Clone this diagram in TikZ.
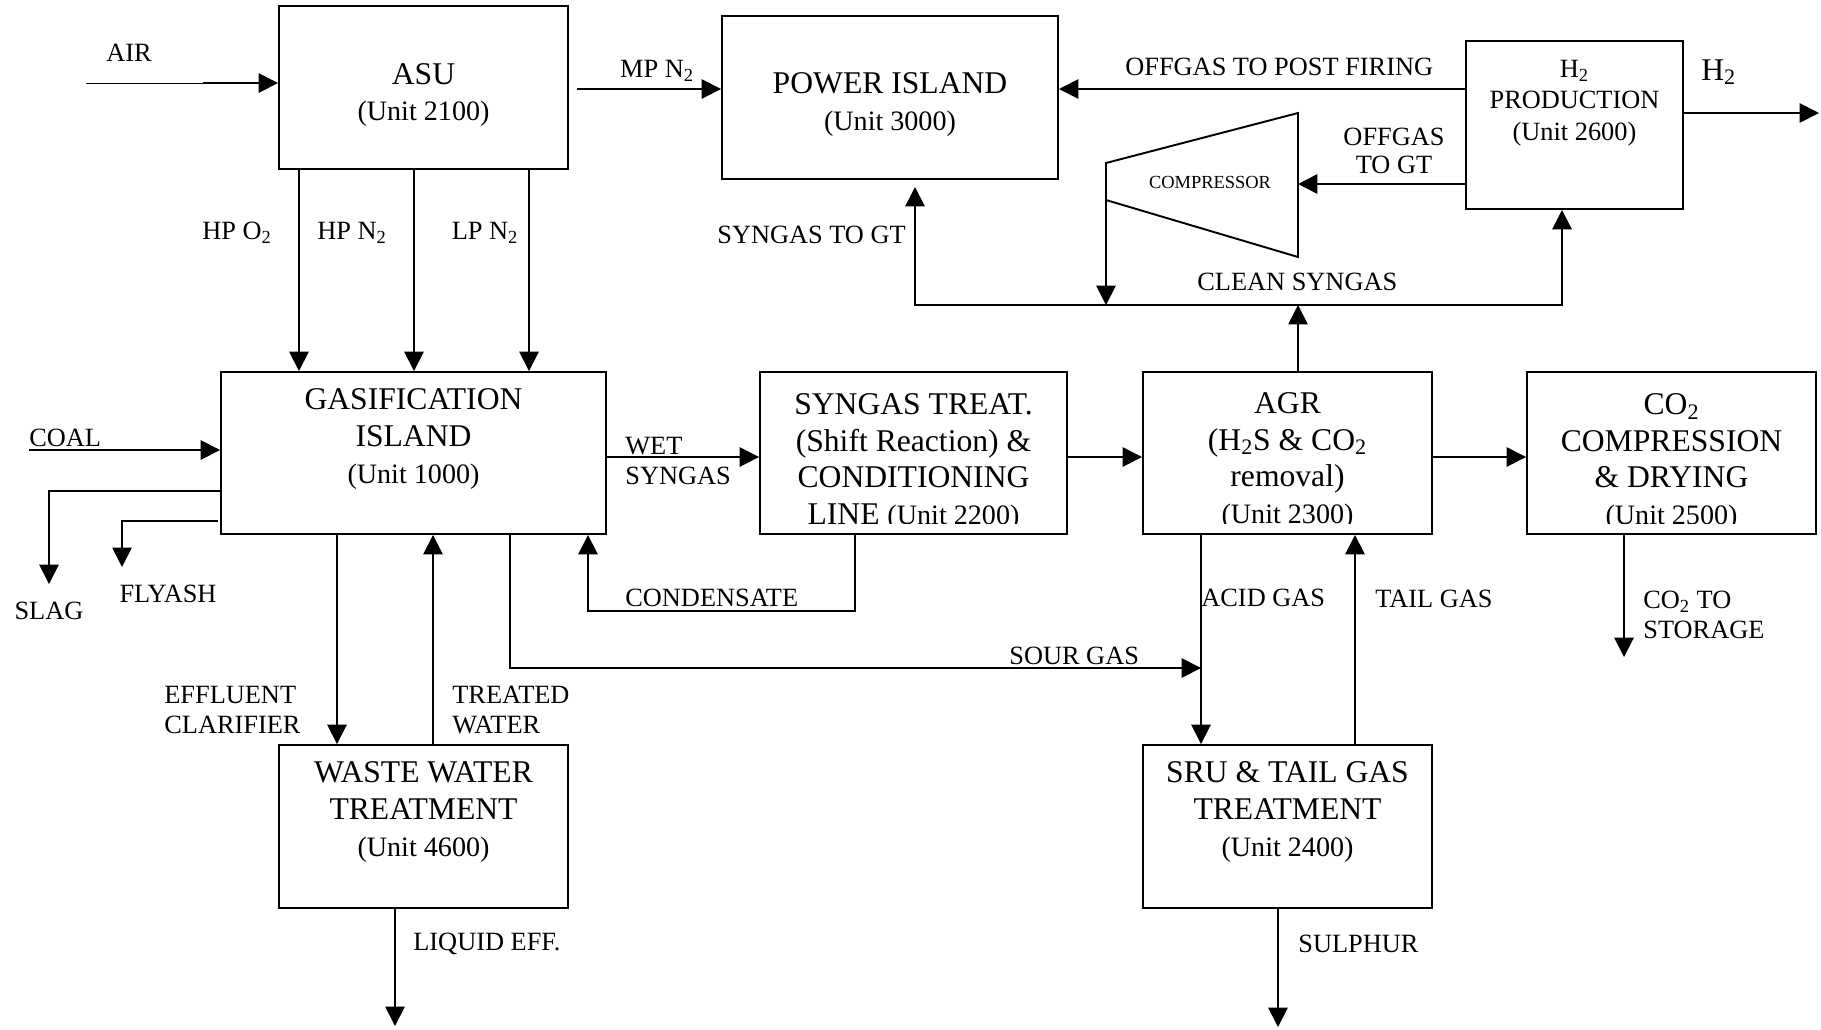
\documentclass[tikz,border=0pt]{standalone}
\usepackage{fontspec}
\setmainfont{Liberation Serif}
\usepackage{tikz}
\usetikzlibrary{arrows.meta}
\usetikzlibrary{fit}

\newcommand{\unitno}[1]{{\fontsize{16}{20.8}\selectfont (Unit #1)}}
\tikzset{
  unitbox/.style={draw,line width=1.1pt,inner sep=0pt},
  boxtxt/.style={font=\fontsize{18}{20.8}\selectfont,align=center,inner sep=0pt},
  lbl/.style={font=\fontsize{15}{17.5}\selectfont,align=left,inner sep=0pt},
  flow/.style={line width=1pt,-{Triangle[length=11pt,width=11pt]}}
}

\begin{document}
\begin{tikzpicture}[line join=miter,x=0.02cm,y=-0.02cm]
\useasboundingbox (0,0) rectangle (1821,1029);
% process units
\node[unitbox,fit={(279,6) (568,169)}] (asu) {};
\node[unitbox,fit={(722,16) (1058,179)}] (power) {};
\node[unitbox,fit={(1466,41) (1683,209)}] (htwo) {};
\node[unitbox,fit={(221,372) (606,534)}] (gasif) {};
\node[unitbox,fit={(760,372) (1067,534)}] (shift) {};
\node[unitbox,fit={(1143,372) (1432,534)}] (agr) {};
\node[unitbox,fit={(1527,372) (1816,534)}] (cotwo) {};
\node[unitbox,fit={(279,745) (568,908)}] (wwt) {};
\node[unitbox,fit={(1143,745) (1432,908)}] (sru) {};

\node[boxtxt] (asu-t) at (423.5,95) {ASU\\\unitno{2100}};
\node[boxtxt] (power-t) at (890,104.5) {POWER ISLAND\\\unitno{3000}};
\node[boxtxt,font=\fontsize{15}{18}\selectfont] (htwo-t) at (1574.5,103) {H\textsubscript{2}\\PRODUCTION\\(Unit 2600)};
\node[boxtxt] (gasif-t) at (413.5,439) {GASIFICATION\\ISLAND\\\unitno{1000}};
\node[boxtxt] (wwt-t) at (423.5,812) {WASTE WATER\\TREATMENT\\\unitno{4600}};
\node[boxtxt] (sru-t) at (1287.5,812) {SRU \& TAIL GAS\\TREATMENT\\\unitno{2400}};
\begin{scope}
\clip (760,372) rectangle (1816,523);
\node[boxtxt] (shift-t) at (913.5,462) {SYNGAS TREAT.\\(Shift Reaction) \&\\CONDITIONING\\LINE \unitno{2200}};
\node[boxtxt] (agr-t) at (1287.5,461) {AGR\\(H\textsubscript{2}S \& CO\textsubscript{2}\\removal)\\\unitno{2300}};
\node[boxtxt] (cotwo-t) at (1671.5,462) {CO\textsubscript{2}\\COMPRESSION\\\& DRYING\\\unitno{2500}};
\end{scope}

% compressor
\coordinate (ctl) at (1106,163);
\coordinate (ctr) at (1298,113);
\coordinate (cbr) at (1298,257);
\coordinate (cbl) at (1106,200);
\draw[line width=1.1pt] (ctl) -- (ctr) -- (cbr) -- (cbl) -- cycle;
\node[font=\fontsize{10.5}{12}\selectfont,inner sep=0pt] (comp-t) at (1210,182) {COMPRESSOR};

% streams
\coordinate (air) at (86,83);
\coordinate (air2) at (203,83);
\draw[line width=0.5pt] (air) -- (air2);
\draw[flow] (air2) -- (air2 -| asu.west);
\coordinate (mpn) at (577,89);
\draw[flow] (mpn) -- (mpn -| power.west);
\foreach \x in {299,414,529}
  \draw[flow] (\x,0 |- asu.south) -- (\x,0 |- gasif.north);
\coordinate (coal) at (29,450);
\draw[flow] (coal) -- (coal -| gasif.west);
\coordinate (slag) at (49,584);
\draw[flow] (gasif.west |- 0,491) -| (slag);
\coordinate (fly) at (122,567);
\draw[flow,shorten <=1pt] (gasif.west |- 0,521) -| (fly);
\draw[flow] (337,0 |- gasif.south) -- (337,0 |- wwt.north);
\draw[flow] (433,0 |- wwt.north) -- (433,0 |- gasif.south);
\coordinate (liq) at (395,1026);
\draw[flow] (liq |- wwt.south) -- (liq);
\draw[flow] (gasif.east |- 0,457) -- (shift.west |- 0,457);
\draw[flow] (shift.east |- 0,457) -- (agr.west |- 0,457);
\draw[flow] (agr.east |- 0,457) -- (cotwo.west |- 0,457);
\coordinate (cond) at (855,611);
\draw[flow] (cond |- shift.south) -- (cond) -| (588,0 |- gasif.south);
\coordinate (sour) at (1201,668);
\draw[flow] (510,0 |- gasif.south) |- (sour);
\draw[flow] (sour |- agr.south) -- (sour |- sru.north);
\draw[flow] (1355,0 |- sru.north) -- (1355,0 |- agr.south);
\coordinate (sul) at (1278,1027);
\draw[flow] (sul |- sru.south) -- (sul);
\coordinate (stor) at (1624,657);
\draw[flow] (stor |- cotwo.south) -- (stor);
\coordinate (cs) at (1298,305);
\draw[flow] (cs |- agr.north) -- (cs);
\draw[flow,shorten >=4pt] (cs) -| (915,0 |- power.south);
\draw[flow] (cs) -| (1562,0 |- htwo.south);
\draw[flow] (cbl) -- (cbl |- cs);
\draw[flow] (htwo.west |- 0,184) -- (ctr |- 0,184);
\draw[flow] (htwo.west |- 0,89) -- (power.east |- 0,89);
\coordinate (hout) at (1819,113);
\draw[flow] (htwo.east |- hout) -- (hout);

% stream labels
\node[lbl] (l-air) at (129,53) {AIR};
\node[lbl] (l-mpn) at (657,71) {MP N\textsubscript{2}};
\node[lbl] (l-hpo) at (237,233) {HP O\textsubscript{2}};
\node[lbl] (l-hpn) at (352,233) {HP N\textsubscript{2}};
\node[lbl] (l-lpn) at (485,233) {LP N\textsubscript{2}};
\node[lbl,anchor=west] (l-coal) at (29,438) {COAL};
\node[lbl] (l-slag) at (49,611) {SLAG};
\node[lbl] (l-fly) at (168,594) {FLYASH};
\node[lbl,anchor=west] (l-eff) at (164,710) {EFFLUENT\\CLARIFIER};
\node[lbl,anchor=west] (l-tw) at (452,710) {TREATED\\WATER};
\node[lbl,anchor=west] (l-liq) at (413,944) {LIQUID EFF.};
\node[lbl,anchor=west] (l-wet) at (625,461) {WET\\SYNGAS};
\node[lbl,anchor=west] (l-cond) at (625,598) {CONDENSATE};
\node[lbl,anchor=west] (l-sour) at (1009,656) {SOUR GAS};
\node[lbl,anchor=west] (l-acid) at (1201,598) {ACID GAS};
\node[lbl,anchor=west] (l-tail) at (1375,599) {TAIL GAS};
\node[lbl,anchor=west] (l-sul) at (1298,944) {SULPHUR};
\node[lbl,anchor=west] (l-stor) at (1643,615) {CO\textsubscript{2} TO\\STORAGE};
\node[lbl,anchor=west] (l-gt) at (717,235) {SYNGAS TO GT};
\node[lbl,anchor=west] (l-post) at (1125,67) {OFFGAS TO POST FIRING};
\node[lbl,align=center,font=\fontsize{15}{15.6}\selectfont] (l-offgt) at (1394,151) {OFFGAS\\TO GT};
\node[lbl,anchor=west] (l-clean) at (1197,282) {CLEAN SYNGAS};
\node[lbl,anchor=west,font=\fontsize{18}{20}\selectfont] (l-htwo) at (1701,72) {H\textsubscript{2}};
\end{tikzpicture}
\end{document}
